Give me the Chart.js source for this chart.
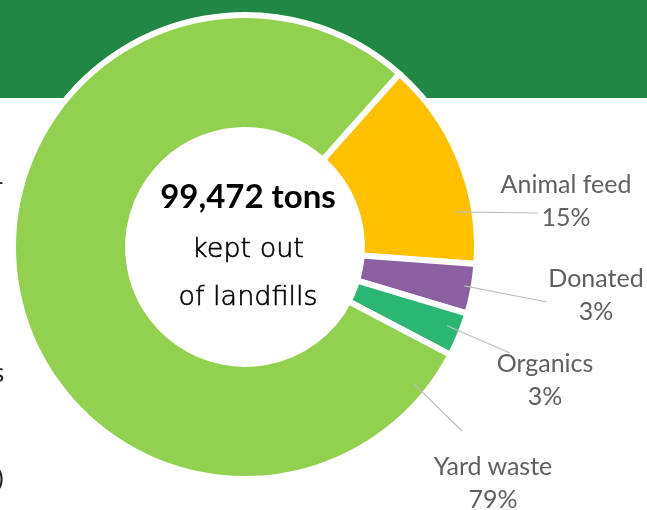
<!DOCTYPE html>
<html>
<head>
<meta charset="utf-8">
<script src="https://cdn.jsdelivr.net/npm/chart.js@4.4.1/dist/chart.umd.min.js"></script>
<style>
  html, body { margin: 0; padding: 0; background: #fff; }
  #stage { position: relative; width: 647px; height: 510px; overflow: hidden; }
  #banner { position: absolute; left: 0; top: 0; width: 647px; height: 98px; background: #218745; }
  #chart { position: absolute; left: 0; top: 0; }
  .t { position: absolute; line-height: 0; white-space: nowrap; }
  .lbl { position: absolute; width: 200px; text-align: center; line-height: 0; white-space: nowrap;
         font-family: Lato, "Open Sans", sans-serif; font-weight: 400; font-size: 25px; color: #606060; }
  .center { left: 148px; width: 200px; text-align: center; color: #000; }
  .big { font-family: Lato, sans-serif; font-weight: 700; font-size: 33px; }
  .thin { font-family: "DejaVu Sans", sans-serif; font-weight: 200; font-size: 27px;
          -webkit-text-stroke: 0.6px #000; }
  .edge { font-family: "Open Sans", sans-serif; font-size: 26px; color: #262626; }
</style>
</head>
<body>
<div id="stage">
  <div id="banner"></div>
  <canvas id="chart" width="647" height="510"></canvas>
  <div class="t center big" id="total" style="top:195px"></div>
  <div class="t center thin" style="top:248px">kept out</div>
  <div class="t center thin" style="top:296px">of landfills</div>
  <div class="t edge" style="left:-5px; top:180px">-</div>
  <div class="t edge" style="left:-8px; top:372px">s</div>
  <div class="t edge" style="left:-4px; top:476px">)</div>
  <div id="labels"></div>
</div>
<script>
    // Waste diverted, in tons
    const categories = ['Animal feed', 'Donated', 'Organics', 'Yard waste'];
    const tons = [14500, 3450, 3050, 78472];
    const sliceColors = ['#FFC000', '#8C5FA0', '#2BB673', '#92D050'];

    // Outside label placement: leader starts at a fraction of the slice angle / radius,
    // ends at (lx, ly); text centred on tx with first baseline near ty
    const labelLayout = [
        { frac: 0.74, rad: 0.92, lx: 538, ly: 213, tx: 566, ty: 193 },
        { frac: 0.47, rad: 0.96, lx: 547, ly: 302, tx: 596, ty: 287 },
        { frac: 0.42, rad: 0.935, lx: 510, ly: 353, tx: 545, ty: 372 },
        { frac: 0.04, rad: 0.94, lx: 462, ly: 431, tx: 493, ty: 475 }
    ];

    const total = tons.reduce((a, b) => a + b, 0);
    document.getElementById('total').textContent = total.toLocaleString('en-US') + ' tons';

    // Outside labels: name + rounded percentage
    const labelBox = document.getElementById('labels');
    categories.forEach(function (name, i) {
        const p = labelLayout[i];
        const pct = Math.round(tons[i] / total * 100) + '%';
        [name, pct].forEach(function (txt, k) {
            const d = document.createElement('div');
            d.className = 'lbl';
            d.style.left = (p.tx - 100) + 'px';
            d.style.top = (p.ty + k * 33 - 10) + 'px';
            d.textContent = txt;
            labelBox.appendChild(d);
        });
    });

    // Leader lines from the slices to the labels
    const leaderLines = {
        id: 'leaderLines',
        afterDatasetsDraw(chart) {
            const ctx = chart.ctx;
            const meta = chart.getDatasetMeta(0);
            ctx.save();
            ctx.strokeStyle = '#BFBFBF';
            ctx.lineWidth = 1.2;
            meta.data.forEach(function (arc, i) {
                const p = labelLayout[i];
                const ang = arc.startAngle + p.frac * (arc.endAngle - arc.startAngle);
                const r = arc.outerRadius * p.rad;
                ctx.beginPath();
                ctx.moveTo(arc.x + r * Math.cos(ang), arc.y + r * Math.sin(ang));
                ctx.lineTo(p.lx, p.ly);
                ctx.stroke();
            });
            ctx.restore();
        }
    };

    const ctx = document.getElementById('chart').getContext('2d');
    new Chart(ctx, {
        type: 'doughnut',
        data: {
            labels: categories,
            datasets: [{
                data: tons,
                backgroundColor: sliceColors,
                borderColor: '#FFFFFF',
                borderWidth: 6,
                borderJoinStyle: 'miter'
            }]
        },
        options: {
            responsive: false,
            animation: false,
            events: [],
            rotation: 41.7,
            radius: 232,
            cutout: '50.4%',
            layout: { padding: { left: 0, right: 157, top: 0, bottom: 16 } },
            plugins: {
                legend: { display: false },
                tooltip: { enabled: false }
            }
        },
        plugins: [leaderLines]
    });
</script>
</body>
</html>
